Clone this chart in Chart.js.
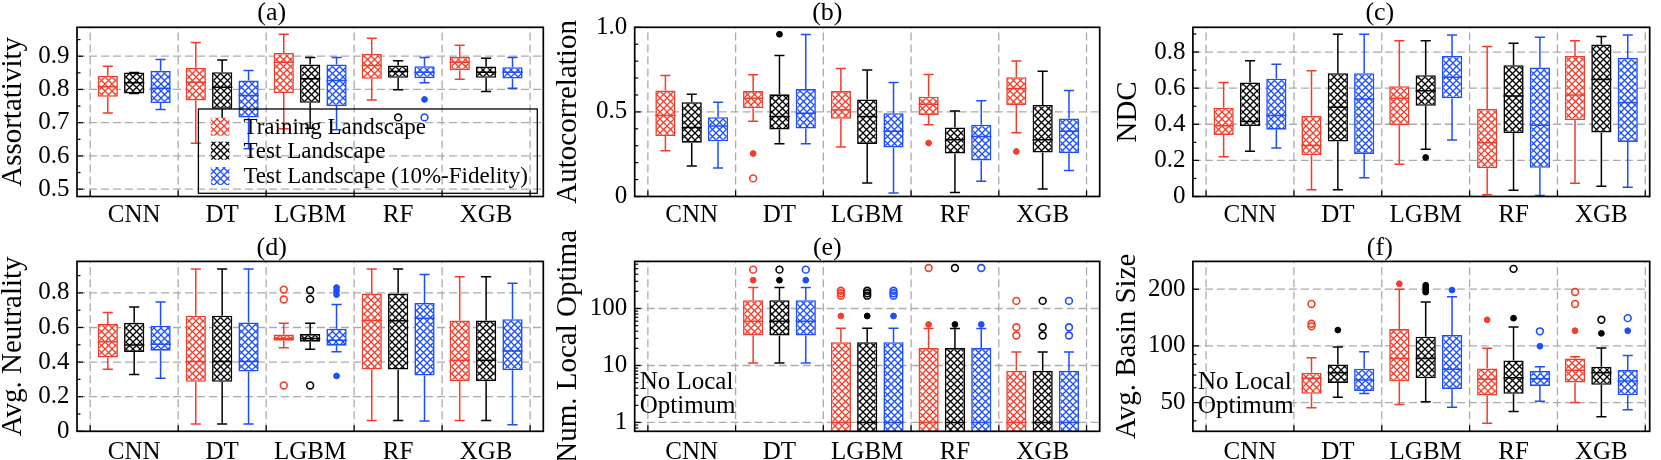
<!DOCTYPE html>
<html>
<head>
<meta charset="utf-8">
<script src="https://cdn.jsdelivr.net/npm/chart.js@4.4.1/dist/chart.umd.min.js"></script>
<style>
  html, body { margin: 0; padding: 0; background: #fff; }
  body { width: 1661px; height: 460px; position: relative; overflow: hidden; }
  canvas { position: absolute; }
</style>
</head>
<body>
<script>
const categories = ['CNN', 'DT', 'LGBM', 'RF', 'XGB'];
const seriesLabels = ['Training Landscape', 'Test Landscape', 'Test Landscape (10%-Fidelity)'];
const seriesColors = ['#f43c2a', '#000000', '#1c4dff'];
const offsets = [-0.3, 0, 0.3]; // where each series sits inside a model slot

// Every stats array: one row per series (training, test, test 10%), one column per model.
// (a) Assortativity
const assortLo  = [[0.729, 0.638, 0.682, 0.768, 0.831], [0.788, 0.672, 0.683, 0.799, 0.794], [0.740, 0.622, 0.679, 0.820, 0.804]];
const assortQ1  = [[0.778, 0.767, 0.789, 0.832, 0.858], [0.788, 0.742, 0.760, 0.835, 0.835], [0.759, 0.716, 0.750, 0.834, 0.833]];
const assortMed = [[0.808, 0.822, 0.882, 0.872, 0.882], [0.820, 0.807, 0.832, 0.854, 0.852], [0.804, 0.782, 0.827, 0.852, 0.852]];
const assortQ3  = [[0.841, 0.865, 0.910, 0.907, 0.898], [0.851, 0.852, 0.875, 0.872, 0.869], [0.856, 0.827, 0.875, 0.870, 0.867]];
const assortHi  = [[0.870, 0.941, 0.966, 0.954, 0.933], [0.851, 0.889, 0.896, 0.886, 0.894], [0.890, 0.857, 0.896, 0.896, 0.896]];
const assortDots  = [[[], [], [], [], []], [[], [], [], [], []], [[], [], [], [0.770], []]];
const assortRings = [[[], [], [], [], []], [[], [], [], [0.716], []], [[], [], [], [0.716], []]];
const assortTicks = [0.5, 0.6, 0.7, 0.8, 0.9];
const assortTickLabels = ['0.5', '0.6', '0.7', '0.8', '0.9'];

// (b) Autocorrelation
const autoLo  = [[0.270, 0.445, 0.293, 0.424, 0.377], [0.180, 0.312, 0.080, 0.023, 0.045], [0.168, 0.312, 0.021, 0.090, 0.154]];
const autoQ1  = [[0.357, 0.521, 0.459, 0.482, 0.541], [0.318, 0.396, 0.311, 0.254, 0.260], [0.326, 0.402, 0.289, 0.213, 0.256]];
const autoMed = [[0.479, 0.580, 0.512, 0.545, 0.639], [0.408, 0.473, 0.473, 0.336, 0.336], [0.416, 0.492, 0.385, 0.355, 0.385]];
const autoQ3  = [[0.627, 0.623, 0.623, 0.590, 0.705], [0.557, 0.604, 0.574, 0.408, 0.541], [0.469, 0.635, 0.492, 0.424, 0.461]];
const autoHi  = [[0.715, 0.719, 0.756, 0.721, 0.801], [0.605, 0.834, 0.748, 0.506, 0.740], [0.557, 0.957, 0.674, 0.566, 0.627]];
const autoDots  = [[[], [0.254], [], [0.316], [0.266]], [[], [0.959], [], [], []], [[], [], [], [], []]];
const autoRings = [[[], [0.107], [], [], []], [[], [], [], [], []], [[], [], [], [], []]];
const autoTicks = [0, 0.5, 1.0];
const autoTickLabels = ['0', '0.5', '1.0'];

// (c) NDC
const ndcLo  = [[0.220, 0.037, 0.178, 0.009, 0.073], [0.251, 0.037, 0.262, 0.035, 0.057], [0.269, 0.104, 0.313, 0.005, 0.051]];
const ndcQ1  = [[0.341, 0.229, 0.395, 0.156, 0.423], [0.390, 0.304, 0.502, 0.351, 0.355], [0.370, 0.236, 0.544, 0.159, 0.302]];
const ndcMed = [[0.392, 0.282, 0.544, 0.297, 0.562], [0.416, 0.494, 0.586, 0.557, 0.648], [0.449, 0.540, 0.661, 0.394, 0.520]];
const ndcQ3  = [[0.492, 0.447, 0.611, 0.485, 0.778], [0.632, 0.683, 0.672, 0.727, 0.842], [0.652, 0.683, 0.778, 0.714, 0.767]];
const ndcHi  = [[0.632, 0.696, 0.862, 0.831, 0.862], [0.752, 0.899, 0.862, 0.849, 0.886], [0.732, 0.899, 0.895, 0.882, 0.895]];
const ndcDots  = [[[], [], [], [], []], [[], [], [0.216], [], []], [[], [], [], [], []]];
const ndcRings = [[[], [], [], [], []], [[], [], [], [], []], [[], [], [], [], []]];
const ndcTicks = [0, 0.2, 0.4, 0.6, 0.8];
const ndcTickLabels = ['0', '0.2', '0.4', '0.6', '0.8'];

// (d) Avg. Neutrality
const neutLo  = [[0.359, 0.042, 0.483, 0.063, 0.063], [0.328, 0.042, 0.474, 0.063, 0.063], [0.307, 0.042, 0.460, 0.059, 0.038]];
const neutQ1  = [[0.426, 0.286, 0.524, 0.357, 0.290], [0.459, 0.286, 0.518, 0.357, 0.290], [0.466, 0.345, 0.495, 0.322, 0.353]];
const neutMed = [[0.518, 0.403, 0.537, 0.641, 0.411], [0.499, 0.403, 0.537, 0.639, 0.411], [0.503, 0.403, 0.526, 0.654, 0.464]];
const neutQ3  = [[0.620, 0.668, 0.560, 0.796, 0.641], [0.627, 0.668, 0.562, 0.796, 0.641], [0.610, 0.629, 0.593, 0.742, 0.648]];
const neutHi  = [[0.687, 0.938, 0.624, 0.938, 0.894], [0.719, 0.938, 0.624, 0.938, 0.894], [0.748, 0.938, 0.733, 0.907, 0.856]];
const neutDots  = [[[], [], [], [], []], [[], [], [], [], []], [[], [], [0.831, 0.812, 0.790, 0.320], [], []]];
const neutRings = [[[], [], [0.819, 0.762, 0.265], [], []], [[], [], [0.815, 0.764, 0.265], [], []], [[], [], [], [], []]];
const neutTicks = [0, 0.2, 0.4, 0.6, 0.8];
const neutTickLabels = ['0', '0.2', '0.4', '0.6', '0.8'];

// (e) Num. Local Optima (CNN has none)
const optLo  = [[null, 11.1, 0, 0, 0], [null, 11.1, 0, 0, 0], [null, 11.1, 0, 0, 0]];
const optQ1  = [[null, 33.6, 0, 0, 0], [null, 33.6, 0, 0, 0], [null, 33.6, 0, 0, 0]];
const optMed = [[null, 59.5, 1, 1, 1], [null, 59.5, 1, 1, 1], [null, 59.5, 1, 1, 1]];
const optQ3  = [[null, 140, 25.7, 20.2, 8.1], [null, 140, 25.7, 20.2, 8.1], [null, 140, 25.7, 20.2, 8.1]];
const optHi  = [[null, 234, 45, 44.7, 17.3], [null, 234, 45, 44.7, 17.3], [null, 234, 45, 44.7, 17.3]];
const optDots  = [[[], [314], [74], [52.5], []], [[], [314], [74], [52.5], []], [[], [314], [74], [52.5], []]];
const optRings = [[[], [481], [205, 185, 168], [514], [136, 46.9, 33.6]], [[], [481], [205, 185, 168], [514], [136, 46.9, 33.6]], [[], [481], [205, 185, 168], [514], [136, 46.9, 33.6]]];
const optTicks = [1, 10, 100];
const optTickLabels = ['1', '10', '100'];

// (f) Avg. Basin Size (CNN has none)
const basinLo  = [[null, 47.0, 48.9, 38.8, 50.1], [null, 53.4, 50.5, 44.9, 42.1], [null, 55.9, 47.3, 50.9, 45.8]];
const basinQ1  = [[null, 55.7, 64.9, 54.5, 63.9], [null, 63.6, 67.3, 55.7, 62.1], [null, 57.7, 59.1, 61.3, 54.7]];
const basinMed = [[null, 67.3, 85.7, 66.5, 74.2], [null, 72.1, 85.7, 67.8, 72.1], [null, 66.0, 75.1, 67.0, 65.2]];
const basinQ3  = [[null, 72.1, 122.9, 75.9, 85.7], [null, 79.7, 112.0, 83.7, 77.5], [null, 75.7, 114.3, 73.6, 74.4]];
const basinHi  = [[null, 86.5, 200, 97.2, 87.5], [null, 98.8, 171.2, 125.9, 97.6], [null, 93.0, 182.6, 77.5, 88.9]];
const basinDots  = [[[], [], [213.8], [137.6], [120.4]], [[], [121.4], [210, 204, 198, 193], [140.4], [116.6]], [[], [], [198], [99.6], [120.4]]];
const basinRings = [[[], [167, 131, 127], [], [], [193.3, 167]], [[], [], [], [256.5], [137.6]], [[], [], [], [119.5], [140.4]]];
const basinTicks = [50, 100, 200];
const basinTickLabels = ['50', '100', '200'];

const SERIF = "'Liberation Serif', serif";
const GRID = '#ababab';

function hatch(color) {
  const t = 7;
  const c = document.createElement('canvas');
  c.width = t; c.height = t;
  const g = c.getContext('2d');
  g.fillStyle = '#fff';
  g.fillRect(0, 0, t, t);
  g.strokeStyle = color;
  g.lineWidth = 1.3;
  g.beginPath();
  g.moveTo(-1, -1); g.lineTo(t + 1, t + 1);
  g.moveTo(-1, t + 1); g.lineTo(t + 1, -1);
  g.stroke();
  return g.createPattern(c, 'repeat');
}

function minorTicks(p) {
  const out = [];
  const isMajor = v => p.ticks.some(t => Math.abs(t - v) < 1e-6 * Math.max(1, Math.abs(v)));
  if (p.log) {
    for (let e = Math.floor(Math.log10(p.yMin)); e <= Math.ceil(Math.log10(p.yMax)); e++) {
      for (let m = 1; m < 10; m++) {
        const v = m * Math.pow(10, e);
        if (v > p.yMin && v < p.yMax && !isMajor(v)) out.push(v);
      }
    }
  } else {
    for (let k = Math.ceil(p.yMin / p.minorStep - 1e-9); k * p.minorStep < p.yMax; k++) {
      const v = k * p.minorStep;
      if (!isMajor(v)) out.push(v);
    }
  }
  return out;
}

function line(ctx, x1, y1, x2, y2) {
  ctx.beginPath();
  ctx.moveTo(x1, y1);
  ctx.lineTo(x2, y2);
  ctx.stroke();
}

function decor(p) {
  return {
    id: 'decor',
    beforeDatasetsDraw(chart) {
      const { ctx, chartArea: a, scales: { x, y } } = chart;
      ctx.save();
      ctx.beginPath();
      ctx.rect(a.left, a.top, a.width, a.height);
      ctx.clip();
      // dashed grid: slot boundaries and major y ticks
      ctx.strokeStyle = GRID;
      ctx.lineWidth = 1.3;
      ctx.setLineDash([8, 4]);
      for (let b = 0.5; b <= categories.length + 0.5; b++) {
        const px = x.getPixelForValue(b);
        line(ctx, px, a.bottom, px, a.top);
      }
      p.ticks.forEach(v => {
        const py = y.getPixelForValue(v);
        line(ctx, a.left, py, a.right, py);
      });
      ctx.setLineDash([]);
      // whiskers and caps
      ctx.lineWidth = 1.5;
      chart.data.datasets.forEach((ds, d) => {
        if (ds.type !== 'bar') return;
        const meta = chart.getDatasetMeta(d);
        ctx.strokeStyle = ds.borderColor;
        meta.data.forEach((el, j) => {
          const r = ds.data[j];
          const cap = el.width / 4;
          [[r.y[0], r.lo], [r.y[1], r.hi]].forEach(([from, to]) => {
            if (p.log && to <= 0) return;
            const y0 = y.getPixelForValue(from), y1 = y.getPixelForValue(to);
            line(ctx, el.x, y0, el.x, y1);
            line(ctx, el.x - cap, y1, el.x + cap, y1);
          });
        });
      });
      ctx.restore();
    },
    afterDatasetsDraw(chart) {
      const { ctx, chartArea: a, scales: { x, y } } = chart;
      ctx.save();
      ctx.beginPath();
      ctx.rect(a.left, a.top, a.width, a.height);
      ctx.clip();
      // medians
      ctx.lineWidth = 1.5;
      chart.data.datasets.forEach((ds, d) => {
        if (ds.type !== 'bar') return;
        const meta = chart.getDatasetMeta(d);
        ctx.strokeStyle = ds.borderColor;
        meta.data.forEach((el, j) => {
          const py = y.getPixelForValue(ds.data[j].med);
          line(ctx, el.x - el.width / 2, py, el.x + el.width / 2, py);
        });
      });
      ctx.restore();

      // frame and inward ticks
      ctx.save();
      ctx.strokeStyle = '#000';
      ctx.lineWidth = 1.7;
      ctx.strokeRect(a.left, a.top, a.width, a.height);
      ctx.lineWidth = 1.2;
      p.ticks.forEach(v => {
        const py = y.getPixelForValue(v);
        line(ctx, a.left, py, a.left + 6, py);
      });
      minorTicks(p).forEach(v => {
        const py = y.getPixelForValue(v);
        line(ctx, a.left, py, a.left + 3.5, py);
      });
      for (let b = 0.5; b <= categories.length + 0.5; b++) {
        const px = x.getPixelForValue(b);
        line(ctx, px, a.bottom, px, a.bottom - 6);
      }

      ctx.fillStyle = '#000';
      if (p.note) {
        ctx.font = '25px ' + SERIF;
        ctx.textAlign = 'left';
        ctx.textBaseline = 'middle';
        p.note.forEach((t, i) => ctx.fillText(t, a.left + 5, a.bottom - 49 + i * 24.5));
      }

      if (p.legend) {
        const L = a.left + 121.4, T = a.top + 81.7, R = a.right - 6, B = a.bottom - 3.2;
        ctx.lineWidth = 1.3;
        ctx.strokeRect(L, T, R - L, B - T);
        const rows = [17.7, 41.7, 67];
        ctx.font = '23px ' + SERIF;
        ctx.textAlign = 'left';
        ctx.textBaseline = 'middle';
        seriesLabels.forEach((lab, s) => {
          const cy = T + rows[s];
          ctx.fillStyle = hatch(seriesColors[s]);
          ctx.fillRect(L + 12.4, cy - 9, 18.6, 18);
          ctx.fillStyle = '#000';
          ctx.fillText(lab, L + 45, cy + 1);
        });
      }
      ctx.restore();
    }
  };
}

function makeChart(p, g) {
  const canvas = document.createElement('canvas');
  canvas.width = g.w;
  canvas.height = g.h;
  canvas.style.left = g.left + 'px';
  canvas.style.top = g.top + 'px';
  document.body.appendChild(canvas);

  // zero cannot sit on a log axis, push it below the visible range
  const floor = v => (p.log && v <= 0) ? p.yMin / 2 : v;
  const datasets = [];
  seriesLabels.forEach((label, s) => {
    const col = seriesColors[s];
    const boxes = [], dots = [], rings = [];
    categories.forEach((c, i) => {
      if (p.q1[s][i] == null) return;
      const x = i + 1 + offsets[s];
      boxes.push({ x, y: [floor(p.q1[s][i]), p.q3[s][i]], lo: p.lo[s][i], med: p.med[s][i], hi: p.hi[s][i] });
      p.dots[s][i].forEach(v => dots.push({ x, y: v }));
      p.rings[s][i].forEach(v => rings.push({ x, y: v }));
    });
    datasets.push({
      type: 'bar', label, data: boxes,
      backgroundColor: hatch(col), borderColor: col, borderWidth: 1.6, borderSkipped: false,
      grouped: false, categoryPercentage: 0.767, barPercentage: 1, inflateAmount: 0, clip: 0, order: 3
    });
    datasets.push({
      type: 'scatter', data: dots, pointRadius: 2.9, pointBackgroundColor: col,
      pointBorderColor: col, pointBorderWidth: 1, order: 1
    });
    datasets.push({
      type: 'scatter', data: rings, pointRadius: 3.4, pointBackgroundColor: 'rgba(0,0,0,0)',
      pointBorderColor: col, pointBorderWidth: 1.6, order: 1
    });
  });

  return new Chart(canvas, {
    type: 'bar',
    data: { datasets },
    plugins: [decor(p)],
    options: {
      responsive: false,
      animation: false,
      events: [],
      layout: { padding: { left: 0, right: g.rPad, top: 0, bottom: 0 }, autoPadding: false },
      plugins: {
        legend: { display: false },
        tooltip: { enabled: false },
        title: {
          display: true, text: p.title, color: '#000',
          font: { family: SERIF, size: 26, weight: 'normal', lineHeight: 1 },
          padding: { top: g.tTop, bottom: g.tBot }
        }
      },
      scales: {
        x: {
          type: 'linear', min: 0.35, max: g.xMax, offset: false,
          afterBuildTicks: sc => { sc.ticks = categories.map((c, i) => ({ value: i + 1 })); },
          afterFit: sc => { sc.height = g.xH; },
          grid: { display: false, drawTicks: false },
          border: { display: false },
          ticks: {
            autoSkip: false, maxRotation: 0, minRotation: 0, padding: g.xPad, color: '#000',
            font: { family: SERIF, size: 25, lineHeight: 1 },
            callback: v => categories[Math.round(v) - 1]
          }
        },
        y: {
          type: p.log ? 'logarithmic' : 'linear', min: p.yMin, max: p.yMax, beginAtZero: false,
          afterBuildTicks: sc => { sc.ticks = p.ticks.map(v => ({ value: v })); },
          afterFit: sc => { sc.width = g.yW; },
          grid: { display: false, drawTicks: false },
          border: { display: false },
          ticks: {
            autoSkip: false, padding: 7.5, color: '#000',
            font: { family: SERIF, size: 25, lineHeight: 1 },
            callback: (v, i) => p.tickLabels[i]
          },
          title: {
            display: true, text: p.yTitle, color: '#000',
            font: { family: SERIF, size: 29, lineHeight: 0.9 },
            padding: { top: g.ytPad, bottom: 0 }
          }
        }
      }
    }
  });
}

const panels = [
  { title: '(a)', yTitle: 'Assortativity', lo: assortLo, q1: assortQ1, med: assortMed, q3: assortQ3, hi: assortHi,
    dots: assortDots, rings: assortRings, ticks: assortTicks, tickLabels: assortTickLabels,
    yMin: 0.478, yMax: 0.987, minorStep: 0.05, legend: true },
  { title: '(b)', yTitle: 'Autocorrelation', lo: autoLo, q1: autoQ1, med: autoMed, q3: autoQ3, hi: autoHi,
    dots: autoDots, rings: autoRings, ticks: autoTicks, tickLabels: autoTickLabels,
    yMin: 0, yMax: 1.0, minorStep: 0.1 },
  { title: '(c)', yTitle: 'NDC', lo: ndcLo, q1: ndcQ1, med: ndcMed, q3: ndcQ3, hi: ndcHi,
    dots: ndcDots, rings: ndcRings, ticks: ndcTicks, tickLabels: ndcTickLabels,
    yMin: 0, yMax: 0.937, minorStep: 0.1 },
  { title: '(d)', yTitle: 'Avg. Neutrality', lo: neutLo, q1: neutQ1, med: neutMed, q3: neutQ3, hi: neutHi,
    dots: neutDots, rings: neutRings, ticks: neutTicks, tickLabels: neutTickLabels,
    yMin: 0, yMax: 0.982, minorStep: 0.1 },
  { title: '(e)', yTitle: 'Num. Local Optima', lo: optLo, q1: optQ1, med: optMed, q3: optQ3, hi: optHi,
    dots: optDots, rings: optRings, ticks: optTicks, tickLabels: optTickLabels,
    yMin: 0.717, yMax: 671, log: true, note: ['No Local', 'Optimum'] },
  { title: '(f)', yTitle: 'Avg. Basin Size', lo: basinLo, q1: basinQ1, med: basinMed, q3: basinQ3, hi: basinHi,
    dots: basinDots, rings: basinRings, ticks: basinTicks, tickLabels: basinTickLabels,
    yMin: 35.2, yMax: 281, log: true, note: ['No Local', 'Optimum'] }
];

const topRow = { top: 0, h: 230, tTop: 0.3, tBot: 1.0, xH: 33.5, xPad: 6.5 };
const bottomRow = { top: 230, h: 230, tTop: 5.0, tBot: 0.4, xH: 28.7, xPad: 8.5 };
const columns = [
  { left: 0, w: 560, yW: 77, rPad: 16.7, xMax: 5.65, ytTop: 0.5, ytBottom: 0.5 },
  { left: 555, w: 560, yW: 79.7, rPad: 15.3, xMax: 5.65, ytTop: 0.8, ytBottom: 0 },
  { left: 1110, w: 551, yW: 82.9, rPad: 11.3, xMax: 5.55, ytTop: 5.8, ytBottom: 4.7 }
];

panels.forEach((p, k) => {
  const row = k < 3 ? topRow : bottomRow;
  const col = columns[k % 3];
  makeChart(p, Object.assign({}, row, col, { ytPad: k < 3 ? col.ytTop : col.ytBottom }));
});
</script>
</body>
</html>
